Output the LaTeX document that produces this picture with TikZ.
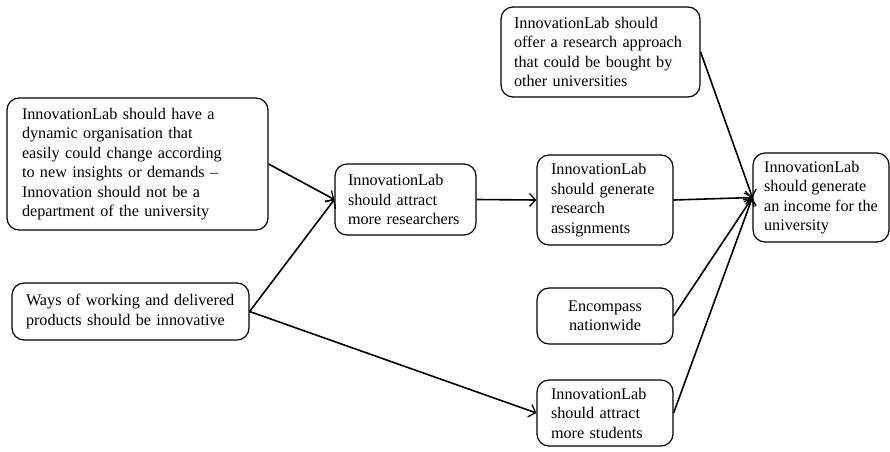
\documentclass[tikz,border=0pt]{standalone}
\usepackage{fontspec}
\setmainfont{Liberation Serif}
\usetikzlibrary{arrows.meta}

\begin{document}
\begin{tikzpicture}[x=1pt,y=-1pt,
  idea/.style={draw, line width=1.2pt, rounded corners=12pt,
    font=\fontsize{16.2}{19.5}\selectfont, align=left, inner ysep=0pt,
    execute at begin node={\hyphenpenalty=10000\exhyphenpenalty=10000}},
  link/.style={line width=1.6pt, -{Straight Barb[length=6pt,width=13pt,line width=1.3pt]}}
]
  % page frame
  \useasboundingbox (0,0) rectangle (890,451);

  % left column
  \node[idea, text width=231pt, inner xsep=15pt, minimum height=132pt] (org) at (137.5,164)
    {InnovationLab should have a\\dynamic organisation that\\easily could change according\\to new insights or demands –\\Innovation should not be a\\department of the university};
  \node[idea, text width=209pt, inner xsep=14pt, minimum height=57pt] (ways) at (130.5,311.5)
    {Ways of working and delivered\\products should be innovative};

  % middle
  \node[idea, text width=115pt, inner xsep=13pt, minimum height=71pt] (res) at (405.5,199.5)
    {InnovationLab\\should attract\\more researchers};

  % right-middle column
  \node[idea, text width=173pt, inner xsep=13pt, minimum height=90pt] (offer) at (600.5,52)
    {InnovationLab should\\offer a research approach\\that could be bought by\\other universities};
  \node[idea, text width=108pt, inner xsep=14pt, minimum height=90pt] (assign) at (605,200)
    {InnovationLab\\should generate\\research\\assignments};
  \node[idea, text width=108pt, inner xsep=14pt, minimum height=56pt, align=center] (nation) at (605,316)
    {Encompass\\nationwide};
  \node[idea, text width=108pt, inner xsep=14pt, minimum height=66pt] (stud) at (605,413)
    {InnovationLab\\should attract\\more students};

  % goal
  \node[idea, minimum width=136pt, minimum height=89pt] (income) at (821,197.5)
    {InnovationLab\\should generate\\an income for the\\university};

  % connectors
  \draw[link] (org.east) -- (res.west);
  \draw[link] (ways.east) -- (res.west);
  \draw[link] (ways.east) -- (stud.west);
  \draw[link] (res.east) -- (assign.west);
  \draw[link] (offer.east) -- (income.west);
  \draw[link] (assign.east) -- (income.west);
  \draw[link] (nation.east) -- (income.west);
  \draw[link] (stud.east) -- (income.west);
\end{tikzpicture}
\end{document}
